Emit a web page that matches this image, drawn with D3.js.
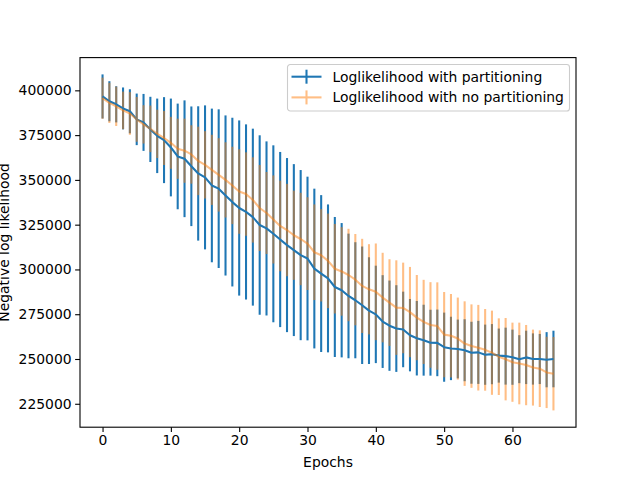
<!DOCTYPE html>
<html>
<head>
<meta charset="utf-8">
<script src="https://cdn.jsdelivr.net/npm/d3@7"></script>
<style>
  body { margin: 0; background: #fff; }
  text { font-family: "DejaVu Sans", sans-serif; }
</style>
</head>
<body>
<script>
// epochs 0..66
var epochs = d3.range(0, 67);

var seriesNames = ["Loglikelihood with partitioning", "Loglikelihood with no partitioning"];

var partMean = [396600, 393900, 392200, 389900, 388300, 383800, 382100, 378200, 374600, 372200,
  368100, 363100, 361800, 357600, 353600, 351400, 346900, 345100, 341300, 337600,
  334300, 332100, 329200, 324800, 322900, 319900, 316700, 313600, 310800, 308000,
  306100, 300500, 297700, 295000, 290200, 288400, 285200, 282800, 280000, 277000,
  274900, 270900, 268600, 267000, 266500, 263300, 261600, 260500, 259100, 259000,
  256600, 255900, 255600, 254900, 253500, 253700, 252400, 252700, 251900, 251600,
  251000, 249900, 250900, 250000, 250000, 249600, 250000];
var partErr = [12300, 11200, 10100, 11700, 12300, 14400, 15900, 18200, 20800, 24000,
  27300, 29500, 32600, 33400, 37500, 40200, 42900, 44300, 44700, 47100,
  48900, 48900, 49400, 50100, 48600, 49400, 48900, 48600, 48000, 47500,
  45700, 44600, 43800, 41300, 39100, 37500, 34800, 32400, 32800, 29800,
  27200, 25900, 25200, 24200, 21100, 20200, 20800, 19800, 18400, 18600,
  19300, 17700, 16400, 17300, 17300, 17600, 16800, 16800, 15100, 15900,
  15400, 13400, 14900, 14300, 14000, 15400, 15800];

var noPartMean = [395600, 393000, 391100, 388800, 387100, 383800, 381000, 378500, 375700, 373400,
  370700, 367400, 366300, 364200, 360600, 358400, 355600, 352800, 350000, 346900,
  343500, 342100, 338800, 334300, 331500, 327900, 324300, 322000, 319100, 317000,
  314400, 309600, 307900, 304800, 300400, 298900, 296900, 294300, 290800, 288900,
  287500, 284300, 281500, 278700, 278500, 276200, 273100, 270700, 269000, 268400,
  263600, 263000, 261400, 258600, 257200, 256300, 255100, 253500, 251300, 249900,
  248200, 247500, 246600, 245200, 244600, 242500, 241800];
var noPartErr = [11500, 11200, 11000, 10500, 11900, 12500, 10700, 13000, 13500, 15100,
  14500, 16800, 17900, 16300, 19100, 18800, 19600, 20500, 21000, 21600,
  23600, 23300, 23800, 24000, 22900, 24600, 25300, 25800, 24900, 25800,
  25900, 26700, 25800, 26400, 25000, 24700, 25800, 25500, 26300, 25200,
  27000, 25000, 24200, 26400, 25300, 25200, 23800, 23500, 23900, 24400,
  23800, 23300, 22900, 23600, 23300, 23900, 22800, 23500, 21400, 23000,
  22100, 22800, 22400, 21200, 21400, 19900, 20500];

var xTicks = [0, 10, 20, 30, 40, 50, 60];
var yTicks = [225000, 250000, 275000, 300000, 325000, 350000, 375000, 400000];

var series = [
  { name: seriesNames[0], mean: partMean, err: partErr, color: "#1f77b4", alpha: 1 },
  { name: seriesNames[1], mean: noPartMean, err: noPartErr, color: "#ff7f0e", alpha: 0.5 }
];

var W = 640, H = 480;
var margin = { top: 57.6, right: 64, bottom: 52.8, left: 80 };
var width = W - margin.left - margin.right,
    height = H - margin.top - margin.bottom;

var svg = d3.select("body").append("svg")
    .attr("width", W)
    .attr("height", H);

svg.append("rect").attr("width", W).attr("height", H).attr("fill", "#fff");

var g = svg.append("g")
    .attr("transform", "translate(" + margin.left + "," + margin.top + ")");

// matplotlib style 5% margins
var lo = d3.min(series, function(s) { return d3.min(s.mean, function(m, i) { return m - s.err[i]; }); });
var hi = d3.max(series, function(s) { return d3.max(s.mean, function(m, i) { return m + s.err[i]; }); });
var pad = (hi - lo) * 0.05;
var xPad = (d3.max(epochs) - d3.min(epochs)) * 0.05;

var x = d3.scaleLinear().domain([d3.min(epochs) - xPad, d3.max(epochs) + xPad]).range([0, width]),
    y = d3.scaleLinear().domain([lo - pad, hi + pad]).range([height, 0]);

var tickLen = 4.86, fs = "13.9px";

var xAxis = g.append("g")
    .attr("transform", "translate(0," + height + ")")
    .call(d3.axisBottom(x).tickValues(xTicks).tickSize(tickLen).tickPadding(3.5).tickFormat(d3.format("d")));
var yAxis = g.append("g")
    .call(d3.axisLeft(y).tickValues(yTicks).tickSize(tickLen).tickPadding(3.5).tickFormat(d3.format("d")));

[xAxis, yAxis].forEach(function(a) {
  a.select(".domain").remove();
  a.selectAll(".tick line").attr("stroke", "#000").attr("stroke-width", 1.1);
  a.selectAll(".tick text").attr("fill", "#000").style("font-size", fs).style("font-family", "DejaVu Sans");
});

var line = d3.line()
    .x(function(d, i) { return x(epochs[i]); })
    .y(function(d) { return y(d); });

// error bars first (both series), then the lines on top
series.forEach(function(s) {
  g.append("g")
    .attr("opacity", s.alpha)
    .selectAll("line")
    .data(s.mean)
    .enter().append("line")
      .attr("x1", function(d, i) { return x(epochs[i]); })
      .attr("x2", function(d, i) { return x(epochs[i]); })
      .attr("y1", function(d, i) { return y(d - s.err[i]); })
      .attr("y2", function(d, i) { return y(d + s.err[i]); })
      .attr("stroke", s.color)
      .attr("stroke-width", 2.08);
});

series.forEach(function(s) {
  g.append("path")
    .datum(s.mean)
    .attr("fill", "none")
    .attr("stroke", s.color)
    .attr("stroke-width", 2.08)
    .attr("stroke-linejoin", "round")
    .attr("opacity", s.alpha)
    .attr("d", line);
});

// frame
g.append("rect")
    .attr("width", width)
    .attr("height", height)
    .attr("fill", "none")
    .attr("stroke", "#000")
    .attr("stroke-width", 1.1);

// axis labels
svg.append("text")
    .attr("x", margin.left + width / 2)
    .attr("y", 467)
    .attr("text-anchor", "middle")
    .style("font-size", fs)
    .text("Epochs");

svg.append("text")
    .attr("transform", "translate(9," + (margin.top + height / 2) + ") rotate(-90)")
    .attr("text-anchor", "middle")
    .style("font-size", fs)
    .text("Negative log likelihood");

// legend
var leg = svg.append("g").attr("transform", "translate(287.5,64.5)");
leg.append("rect")
    .attr("width", 282)
    .attr("height", 46.5)
    .attr("rx", 2.8)
    .attr("fill", "#fff")
    .attr("fill-opacity", 0.8)
    .attr("stroke", "#cccccc")
    .attr("stroke-width", 1.1);

series.forEach(function(s, i) {
  var row = leg.append("g")
      .attr("transform", "translate(0," + (12.2 + i * 20.7) + ")")
      .attr("opacity", s.alpha);
  row.append("line")
      .attr("x1", 4).attr("x2", 34)
      .attr("stroke", s.color).attr("stroke-width", 2.08);
  row.append("line")
      .attr("x1", 19).attr("x2", 19).attr("y1", -7).attr("y2", 7)
      .attr("stroke", s.color).attr("stroke-width", 2.08);
  leg.append("text")
      .attr("x", 45)
      .attr("y", 12.2 + i * 20.7)
      .attr("dy", "0.35em")
      .style("font-size", fs)
      .text(s.name);
});
</script>
</body>
</html>
